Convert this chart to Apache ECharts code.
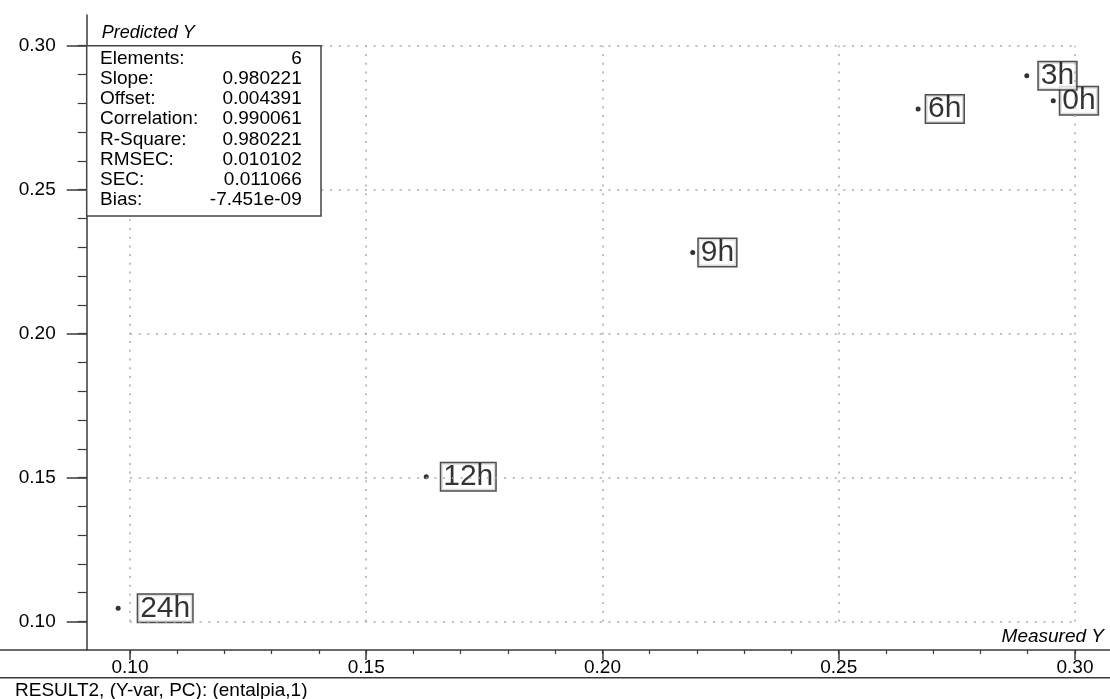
<!DOCTYPE html>
<html>
<head>
<meta charset="utf-8">
<title>Predicted vs Measured Y</title>
<script src="https://cdn.jsdelivr.net/npm/echarts@6/dist/echarts.min.js"></script>
<style>
  html, body { margin: 0; padding: 0; background: #fff; }
  #chart { width: 1110px; height: 699px; }
</style>
</head>
<body>
<div id="chart"></div>
<script>
// Samples (hours) with measured and predicted enthalpy values
const sampleLabels = ['0h', '3h', '6h', '9h', '12h', '24h'];
const measuredY   = [0.2954, 0.2898, 0.2668, 0.2191, 0.1627, 0.0975];
const predictedY  = [0.2809, 0.2896, 0.2780, 0.2282, 0.1503, 0.1046];

// Axis ticks
const majorTicks = [0.10, 0.15, 0.20, 0.25, 0.30];
const minorTicks = [0.10, 0.11, 0.12, 0.13, 0.14, 0.15, 0.16, 0.17, 0.18, 0.19, 0.20,
                    0.21, 0.22, 0.23, 0.24, 0.25, 0.26, 0.27, 0.28, 0.29, 0.30];

// Regression summary
const statNames  = ['Elements:', 'Slope:', 'Offset:', 'Correlation:', 'R-Square:', 'RMSEC:', 'SEC:', 'Bias:'];
const statValues = ['6', '0.980221', '0.004391', '0.990061', '0.980221', '0.010102', '0.011066', '-7.451e-09'];

const footerText = 'RESULT2, (Y-var, PC): (entalpia,1)';

// Gap (px) between each point and its tag
const labelGap = [7, 12, 8, 6, 15, 20];

const FONT = '"Liberation Sans", Arial, sans-serif';
const AXIS_COLOR = '#3a3a3a';
const TEXT_COLOR = '#000';
const X_MIN = 0.07249, X_MAX = 0.30741;
const Y_MIN = 0.09010, Y_MAX = 0.31066;

const chart = echarts.init(document.getElementById('chart'), null, { renderer: 'canvas' });

const points = measuredY.map((m, i) => ({
  value: [m, predictedY[i]],
  name: sampleLabels[i],
  label: { distance: labelGap[i] - 2.5 }
}));

// Dotted reference grid restricted to the tick range
const gridLines = [];
majorTicks.forEach(v => {
  gridLines.push([{ coord: [majorTicks[0], v] }, { coord: [majorTicks[majorTicks.length - 1], v] }]);
  gridLines.push([{ coord: [v, majorTicks[0]] }, { coord: [v, majorTicks[majorTicks.length - 1]] }]);
});

const tickLabelStyle = {
  color: TEXT_COLOR, fontFamily: FONT, fontSize: 19,
  formatter: v => Number(v).toFixed(2)
};

// Stats box rows
const boxX = 86.7, boxY = 45.7, boxW = 234.3, boxH = 170.3;
const statGraphics = [];
statNames.forEach((n, i) => {
  const cy = 58.5 + i * 20.2;
  statGraphics.push({
    type: 'text', z: 101, x: 100, y: cy,
    style: { text: n, font: '19px ' + FONT, fill: TEXT_COLOR, textAlign: 'left', textVerticalAlign: 'middle' }
  });
  statGraphics.push({
    type: 'text', z: 101, x: 301.7, y: cy,
    style: { text: statValues[i], font: '19px ' + FONT, fill: TEXT_COLOR, textAlign: 'right', textVerticalAlign: 'middle' }
  });
});

const option = {
  animation: false,
  backgroundColor: '#fff',
  grid: { left: 0, right: 0, top: 15, bottom: 49, containLabel: false },
  xAxis: [
    {
      type: 'value', position: 'bottom', min: X_MIN, max: X_MAX,
      name: 'Measured Y', nameLocation: 'end', nameGap: -6,
      nameTextStyle: {
        fontFamily: FONT, fontSize: 19, fontStyle: 'italic', color: TEXT_COLOR,
        align: 'right', verticalAlign: 'bottom', lineHeight: 20, padding: [0, 0, 3, 0]
      },
      axisLine: { show: true, onZero: false, lineStyle: { color: AXIS_COLOR, width: 1.5 } },
      axisTick: { show: true, customValues: majorTicks, length: 10, lineStyle: { color: AXIS_COLOR, width: 1.5 } },
      axisLabel: Object.assign({ customValues: majorTicks, margin: 8 }, tickLabelStyle),
      splitLine: { show: false }
    },
    {
      type: 'value', position: 'bottom', min: X_MIN, max: X_MAX,
      axisLine: { show: false, onZero: false },
      axisTick: { show: true, customValues: minorTicks, length: 4, lineStyle: { color: AXIS_COLOR, width: 1.2 } },
      axisLabel: { show: false },
      splitLine: { show: false }
    }
  ],
  yAxis: [
    {
      type: 'value', position: 'left', offset: -86.7, min: Y_MIN, max: Y_MAX,
      name: 'Predicted Y', nameLocation: 'end', nameGap: -18,
      nameTextStyle: {
        fontFamily: FONT, fontSize: 18, fontStyle: 'italic', color: TEXT_COLOR,
        align: 'left', verticalAlign: 'middle', padding: [0, 0, 0, 15]
      },
      axisLine: { show: true, onZero: false, lineStyle: { color: AXIS_COLOR, width: 1.5 } },
      axisTick: { show: true, customValues: majorTicks, length: 20, lineStyle: { color: AXIS_COLOR, width: 1.5 } },
      axisLabel: Object.assign({ customValues: majorTicks, margin: 31 }, tickLabelStyle),
      splitLine: { show: false }
    },
    {
      type: 'value', position: 'left', offset: -86.7, min: Y_MIN, max: Y_MAX,
      axisLine: { show: false, onZero: false },
      axisTick: { show: true, customValues: minorTicks, length: 9, lineStyle: { color: AXIS_COLOR, width: 1.2 } },
      axisLabel: { show: false },
      splitLine: { show: false }
    }
  ],
  series: [
    {
      type: 'scatter',
      xAxisIndex: 0, yAxisIndex: 0,
      symbol: 'circle', symbolSize: 5,
      itemStyle: { color: '#000' },
      data: points,
      label: {
        show: true, position: 'right',
        formatter: p => p.name,
        fontFamily: FONT, fontSize: 30, color: '#000', lineHeight: 26,
        backgroundColor: '#fff', borderColor: '#222', borderWidth: 1.5,
        padding: [1, 2, 0, 2]
      },
      markLine: {
        silent: true, symbol: ['none', 'none'], animation: false,
        label: { show: false },
        lineStyle: { type: [2, 6.7], color: '#aaa', width: 1.5 },
        emphasis: { disabled: true },
        data: gridLines
      },
      z: 3
    }
  ],
  graphic: [
    {
      type: 'rect', z: 100,
      shape: { x: boxX, y: boxY, width: boxW, height: boxH },
      style: { fill: '#fff', stroke: '#444', lineWidth: 1.5 }
    },
    ...statGraphics,
    {
      type: 'line', z: 100,
      shape: { x1: 0, y1: 677.7, x2: 1110, y2: 677.7 },
      style: { stroke: AXIS_COLOR, lineWidth: 1.5 }
    },
    {
      type: 'text', z: 100, x: 15, y: 690.5,
      style: { text: footerText, font: '19px ' + FONT, fill: TEXT_COLOR, textAlign: 'left', textVerticalAlign: 'middle' }
    }
  ]
};

chart.setOption(option);
</script>
</body>
</html>
